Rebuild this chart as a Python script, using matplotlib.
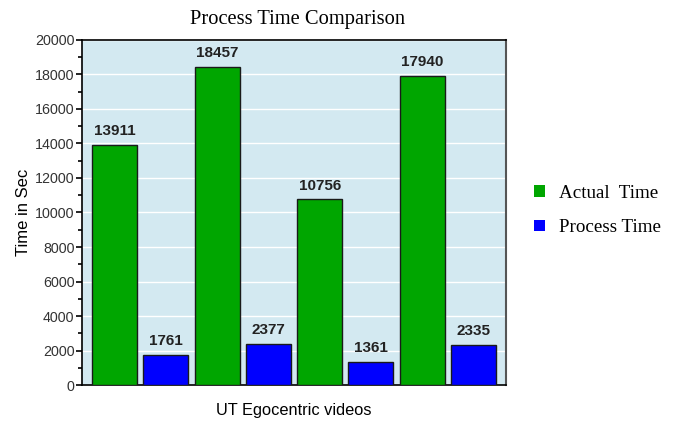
import numpy as np
import matplotlib.pyplot as plt
from matplotlib.patches import Patch
from matplotlib.ticker import MultipleLocator

# dane
actual_time = [13911, 18457, 10756, 17940]
process_time = [1761, 2377, 1361, 2335]
series_names = ["Actual  Time", "Process Time"]
series_colors = ["#00a600", "#0000ff"]

fig = plt.figure(figsize=(6.74, 4.21), dpi=100)
ax = fig.add_axes([0.1217, 0.0855, 0.629, 0.8195])
ax.set_facecolor("#d3e9f1")

# slupki naprzemiennie: actual, process, actual, ...
values = []
colors = []
for a, p in zip(actual_time, process_time):
    values += [a, p]
    colors += series_colors
x = np.arange(len(values))
ax.bar(x, values, width=0.88, color=colors, edgecolor="#1a1a1a", linewidth=1.0, zorder=3)

for xi, v in zip(x, values):
    ax.text(xi, v + 380, str(v), ha="center", va="bottom", fontsize=11,
            fontweight="bold", family="Liberation Sans", color="#222222", zorder=4)

ax.set_xlim(-0.633, 7.633)
ax.set_ylim(0, 20000)
ax.yaxis.set_major_locator(MultipleLocator(2000))
ax.yaxis.set_minor_locator(MultipleLocator(1000))
ax.set_xticks([])
ax.grid(axis="y", color="white", linewidth=1.0, zorder=1)
ax.set_axisbelow(True)
ax.tick_params(axis="y", which="both", direction="out", length=4, width=1.2,
               labelsize=10.3, pad=1.5)
ax.tick_params(axis="y", which="minor", length=3)
for lbl in ax.get_yticklabels():
    lbl.set_family("Liberation Sans")
    lbl.set_color("#333333")

for side in ["left", "bottom", "top"]:
    ax.spines[side].set_color("black")
    ax.spines[side].set_linewidth(1.2)
ax.spines["right"].set_color("#555555")
ax.spines["right"].set_linewidth(1.5)

ax.set_ylabel("Time in Sec", fontsize=12, family="Liberation Sans")
ax.yaxis.set_label_coords(-0.12, 0.5)
ax.set_xlabel("UT Egocentric videos", fontsize=11.8, family="Liberation Sans", labelpad=13)
fig.text(0.442, 0.953, "Process Time Comparison", ha="center", va="center",
         fontsize=14.8, family="Liberation Serif")

handles = [Patch(facecolor=c, edgecolor="none") for c in series_colors]
fig.legend(handles, series_names, loc="center left", bbox_to_anchor=(0.767, 0.5),
           frameon=False, prop={"family": "Liberation Serif", "size": 13.7},
           handlelength=0.55, handleheight=0.55, handletextpad=0.75, labelspacing=0.9)

fig.savefig("out.png", dpi=100)
